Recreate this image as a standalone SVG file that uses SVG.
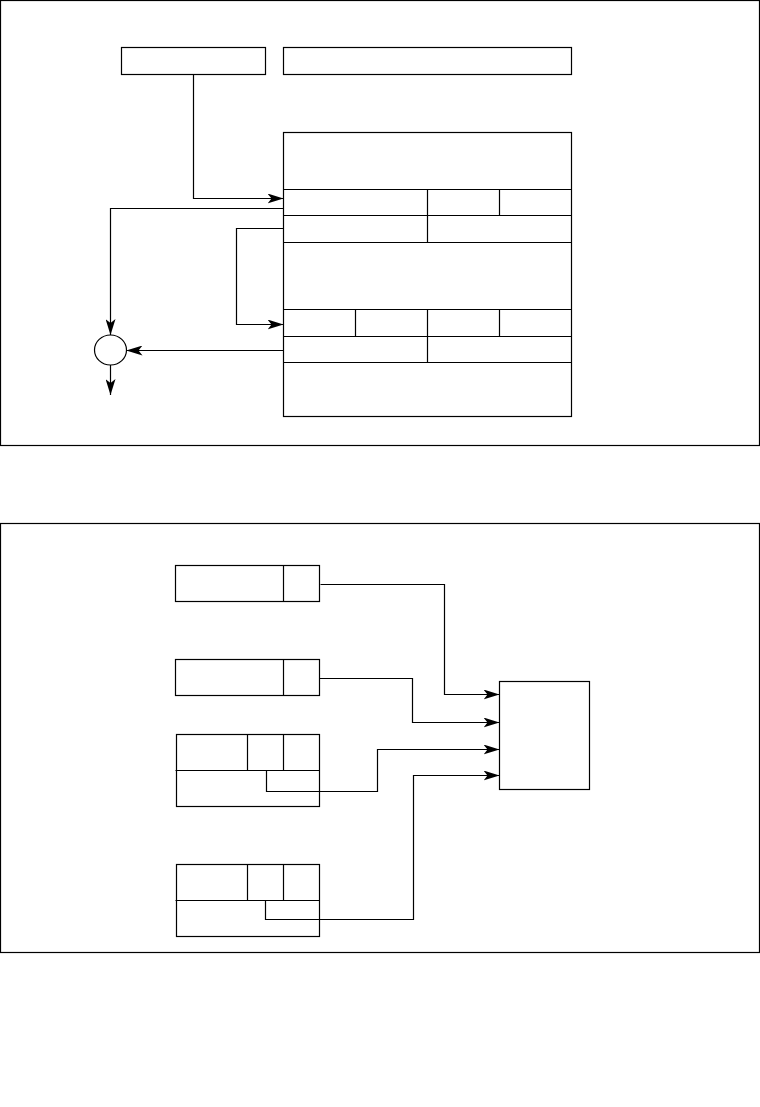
<svg xmlns="http://www.w3.org/2000/svg" width="760" height="1107" viewBox="0 0 760 1107">
<style>
.b{fill:none;stroke:#000;stroke-width:1.2}
.f{fill:#fff;stroke:#000;stroke-width:1.2}
.c{fill:none;stroke:#000;stroke-width:1.2;marker-end:url(#ah)}
.n{fill:none;stroke:#000;stroke-width:1.2}
</style>
<defs>
<marker id="ah" markerUnits="userSpaceOnUse" markerWidth="16" markerHeight="10" refX="16" refY="5" orient="auto" viewBox="0 0 16 10">
<path d="M0,0 L16,5 L0,10 L4,5 z" fill="#000"/>
</marker>
</defs>
<rect width="760" height="1107" fill="#fff"/>
<g id="frame1"><rect class="b" x="0.5" y="0.5" width="759" height="445"/></g>
<g id="frame2"><rect class="b" x="0.5" y="523.5" width="759" height="429"/></g>

<g id="boxA"><rect class="f" x="121.5" y="47.5" width="144" height="27"/></g>
<g id="boxB"><rect class="f" x="283.5" y="47.5" width="288" height="27"/></g>
<g id="bigBox">
<rect class="f" x="283.5" y="132.5" width="288" height="284"/>
<path class="b" d="M283.5,189.5H571.5M283.5,215.5H571.5M283.5,242.5H571.5M283.5,309.5H571.5M283.5,336.5H571.5M283.5,362.5H571.5"/>
<path class="b" d="M427.5,189.5V242.5M499.5,189.5V215.5M355.5,309.5V336.5M427.5,309.5V362.5M499.5,309.5V336.5"/>
</g>
<g id="circle"><ellipse class="f" cx="110.5" cy="350" rx="16" ry="15"/></g>

<g id="lbox1"><rect class="f" x="175.5" y="565.5" width="144" height="36"/><path class="b" d="M283.5,565.5V601.5"/></g>
<g id="lbox2"><rect class="f" x="175.5" y="659.5" width="144" height="36"/><path class="b" d="M283.5,659.5V695.5"/></g>
<g id="lbox3"><rect class="f" x="176.5" y="734.5" width="143" height="72"/><path class="b" d="M175.5,770.5H319.5M247.5,734.5V770.5M283.5,734.5V770.5"/></g>
<g id="lbox4"><rect class="f" x="176.5" y="864.5" width="143" height="72"/><path class="b" d="M175.5,900.5H319.5M247.5,864.5V900.5M283.5,864.5V900.5"/></g>
<g id="target"><rect class="f" x="499.5" y="681.5" width="90" height="108"/></g>

<g id="connectors">
<path class="c" d="M193.5,74.5V198.5H283.5"/>
<path class="c" d="M283.5,208.5H110.5V335"/>
<path class="c" d="M283.5,228.5H236.5V324.5H283.5"/>
<path class="c" d="M283.5,350.5H126.5"/>
<path class="c" d="M110.5,365V395"/>
<path class="c" d="M320.5,584.5H444.5V694.5H499.5"/>
<path class="c" d="M319.5,678.5H412.5V722.5H499.5"/>
<path class="c" d="M266.5,770.5V791.5H377.5V749.5H499.5"/>
<path class="c" d="M265.5,900.5V919.5H413.5V775.5H499.5"/>
</g>
</svg>
